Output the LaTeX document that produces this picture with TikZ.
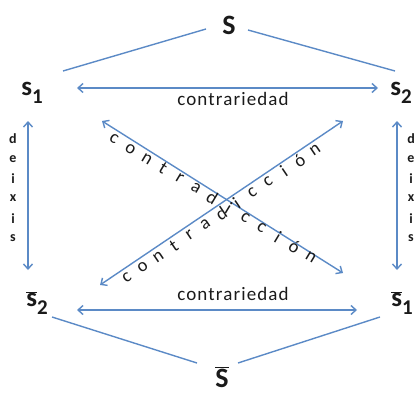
\documentclass[tikz,border=0pt]{standalone}
\usepackage{fontspec}
\setmainfont{Carlito}
\usetikzlibrary{arrows.meta}
\definecolor{lineblue}{HTML}{5B8AC6}
\definecolor{txt}{HTML}{1A1A1A}
\tikzset{
  ln/.style={draw=lineblue, line width=1.4pt},
  arr/.style={ln, {Straight Barb[length=5pt,width=9pt]}-{Straight Barb[length=5pt,width=9pt]}},
  big/.style={text=txt, inner sep=0pt, font=\fontsize{28}{28}\selectfont\bfseries},
  mid/.style={text=txt, inner sep=0pt, font=\fontsize{27}{27}\selectfont\bfseries},
  lab/.style={text=txt, inner sep=0pt, font=\fontsize{19}{19}\selectfont\addfontfeatures{LetterSpace=6}},
  dx/.style={text=txt, inner sep=0pt, font=\fontsize{14}{14}\selectfont\bfseries},
  ct/.style={text=txt, inner sep=0pt, font=\fontsize{18.5}{18.5}\selectfont},
}
\newcommand{\sub}[1]{\raisebox{-0.28em}{\fontsize{21}{21}\selectfont #1}}
\newcommand{\ovl}[1]{$\overline{\hbox{#1}}$}
\begin{document}
\begin{tikzpicture}[x=1pt,y=-1pt]
\useasboundingbox (0,0) rectangle (417,396);
% nodes
\node[big] (S) at (229,25) {S};
\node[mid] (s1) at (32,93) {s\sub{1}};
\node[mid] (s2) at (401,93) {s\sub{2}};
\node[mid] (ns2) at (37,303) {\ovl{s}\sub{2}};
\node[mid] (ns1) at (402,303) {\ovl{s}\sub{1}};
\node[big] (nS) at (222,377) {\ovl{S}};
% connector end points
\coordinate (a1) at (63,71);   \coordinate (a2) at (206,29);
\coordinate (b1) at (248,30);  \coordinate (b2) at (395,71);
\coordinate (c1) at (52,317);  \coordinate (c2) at (197,363);
\coordinate (d1) at (238,363); \coordinate (d2) at (380,317);
\coordinate (t1) at (77,88);   \coordinate (t2) at (378,88);
\coordinate (u1) at (77,310);  \coordinate (u2) at (357,310);
\coordinate (l1) at (28,121);  \coordinate (l2) at (28,270);
\coordinate (r1) at (397,121); \coordinate (r2) at (397,270);
\coordinate (x1) at (102,121); \coordinate (x2) at (343,273);
\coordinate (y1) at (100,285); \coordinate (y2) at (343,121);
% lines
\draw[ln] (a1) -- (a2);
\draw[ln] (b1) -- (b2);
\draw[ln] (c1) -- (c2);
\draw[ln] (d1) -- (d2);
\draw[arr] (t1) -- (t2);
\draw[arr] (u1) -- (u2);
\draw[arr] (l1) -- (l2);
\draw[arr] (r1) -- (r2);
\draw[arr] (x1) -- (x2);
\draw[arr] (y1) -- (y2);
% labels
\node[lab] (k1) at (233,99) {contrariedad};
\node[lab] (k2) at (233,294) {contrariedad};
\foreach \c [count=\i from 0] in {d,e,i,x,i,s} {
  \node[dx] at (13,139+19.8*\i) {\c};
  \node[dx] at (411,139+19.8*\i) {\c};
}
\foreach \c [count=\i from 0] in {c,o,n,t,r,a,d,i,c,c,i,ó,n} {
  \node[ct, rotate=-31] at (114+16.4*\i,139+9.83*\i) {\c};
  \node[ct, rotate=34] at (127+15.67*\i,278-10.67*\i) {\c};
}
\end{tikzpicture}
\end{document}
